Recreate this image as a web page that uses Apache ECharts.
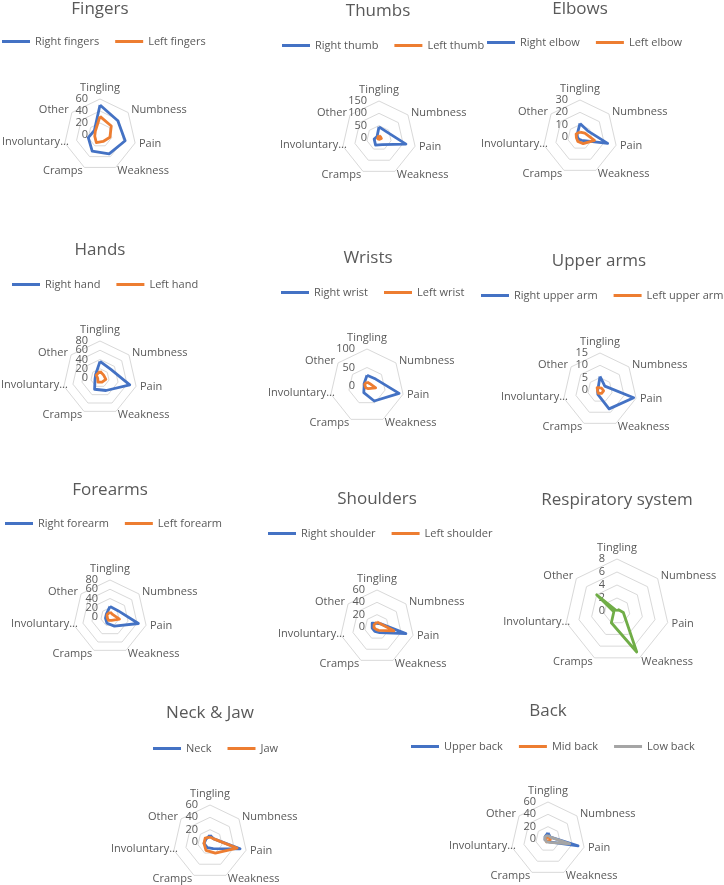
<!DOCTYPE html>
<html>
<head>
<meta charset="utf-8">
<script src="https://cdn.jsdelivr.net/npm/echarts@6/dist/echarts.min.js"></script>
<style>
html,body{margin:0;padding:0;background:#fff;}
#c{width:724px;height:885px;}
</style>
</head>
<body>
<div id="c"></div>
<script>
// Categories (clockwise from top, as in the reference)
const categories = ['Tingling', 'Numbness', 'Pain', 'Weakness', 'Cramps', 'Involuntary...', 'Other'];

// Series values (order follows categories)
const fingersRight = [50, 38, 43, 35, 30, 20, 12];
const fingersLeft  = [31, 24, 17, 12, 14, 9, 10];
const thumbRight   = [45, 40, 112, 30, 32, 20, 10];
const thumbLeft    = [10, 8, 10, 6, 5, 6, 5];
const elbowRight   = [11, 8, 23, 3, 2, 2, 3];
const elbowLeft    = [4, 5, 12, 6, 4, 3, 4];
const handRight    = [36, 30, 66, 30, 27, 11, 12];
const handLeft     = [15, 10, 13, 10, 10, 5, 10];
const wristRight   = [29, 30, 89, 45, 20, 8, 10];
const wristLeft    = [11, 10, 24, 8, 6, 5, 8];
const upperArmRight = [5.5, 2.5, 14, 8.5, 2, 1, 1];
const upperArmLeft  = [1, 1, 1.5, 1.5, 1.5, 1, 1.5];
const forearmRight = [23, 22, 63, 22, 15, 10, 10];
const forearmLeft  = [11, 8, 21, 8, 8, 6, 8];
const shoulderRight = [6, 8, 48, 10, 8, 8, 10];
const shoulderLeft  = [8, 8, 28, 6, 4, 5, 6];
const respiratory  = [0, 0.3, 1, 7, 2, 0.5, 4];
const neck         = [11, 8, 50, 12, 10, 10, 8];
const jaw          = [8, 8, 45, 20, 15, 10, 10];
const upperBack    = [10, 5, 50, 5, 4, 5, 6];
const midBack      = [3, 3, 4, 3, 5, 4, 3];
const lowBack      = [6, 5, 36, 6, 5, 5, 6];

// Axis maxima and tick counts (tick labels: 0..max)
const axisMax   = [60, 150, 30, 80, 100, 15, 80, 60, 8, 60, 60];
const axisSplit = [3, 3, 3, 4, 2, 3, 4, 3, 4, 3, 3];
// Crowded tick labels that ECharts would otherwise drop (drawn by helper axes)
const crowdedTicks = {3: [20, 60], 6: [20, 60]};

const BLUE = '#4472C4', ORANGE = '#ED7D31', GRAY = '#A5A5A5', GREEN = '#70AD47';
const TXT = '#595959';
const FONT = 'Open Sans';

const panels = [
  {title: 'Fingers', tx: 100, ty: 11, lx: 2, ly: 42, cx: 100, cy: 135, r: 36,
   series: [['Right fingers', fingersRight, BLUE], ['Left fingers', fingersLeft, ORANGE]]},
  {title: 'Thumbs', tx: 378, ty: 13, lx: 282, ly: 46, cx: 379, cy: 138, r: 37,
   series: [['Right thumb', thumbRight, BLUE], ['Left thumb', thumbLeft, ORANGE]]},
  {title: 'Elbows', tx: 580, ty: 11, lx: 487, ly: 43, cx: 580, cy: 137, r: 37,
   series: [['Right elbow', elbowRight, BLUE], ['Left elbow', elbowLeft, ORANGE]]},
  {title: 'Hands', tx: 100, ty: 252, lx: 12, ly: 285, cx: 100, cy: 378, r: 37,
   series: [['Right hand', handRight, BLUE], ['Left hand', handLeft, ORANGE]]},
  {title: 'Wrists', tx: 368, ty: 260, lx: 281, ly: 293, cx: 367, cy: 386, r: 37,
   series: [['Right wrist', wristRight, BLUE], ['Left wrist', wristLeft, ORANGE]]},
  {title: 'Upper arms', tx: 599, ty: 263, lx: 481, ly: 296, cx: 600, cy: 390, r: 37,
   series: [['Right upper arm', upperArmRight, BLUE], ['Left upper arm', upperArmLeft, ORANGE]]},
  {title: 'Forearms', tx: 110, ty: 492, lx: 5, ly: 524, cx: 110, cy: 617, r: 37,
   series: [['Right forearm', forearmRight, BLUE], ['Left forearm', forearmLeft, ORANGE]]},
  {title: 'Shoulders', tx: 377, ty: 501, lx: 268, ly: 534, cx: 377, cy: 627, r: 37,
   series: [['Right shoulder', shoulderRight, BLUE], ['Left shoulder', shoulderLeft, ORANGE]]},
  {title: 'Respiratory system', tx: 617, ty: 502, lx: null, ly: null, cx: 617, cy: 611, r: 52,
   series: [['Respiratory system', respiratory, GREEN]]},
  {title: 'Neck & Jaw', tx: 210, ty: 715, lx: 153, ly: 749, cx: 210, cy: 842, r: 37,
   series: [['Neck', neck, BLUE], ['Jaw', jaw, ORANGE]]},
  {title: 'Back', tx: 548, ty: 713, lx: 411, ly: 747, cx: 548, cy: 839, r: 37,
   series: [['Upper back', upperBack, BLUE], ['Mid back', midBack, ORANGE], ['Low back', lowBack, GRAY]]}
];

// ECharts radar runs counter-clockwise; reorder so that categories run clockwise
const order = [0, 6, 5, 4, 3, 2, 1];

const labelStyle = {fontFamily: FONT, fontSize: 11, color: TXT, margin: 12,
                    showMinLabel: true, showMaxLabel: true, hideOverlap: false};

const titles = [], legends = [], radars = [], series = [];
panels.forEach((p, i) => {
  titles.push({
    text: p.title, left: p.tx, top: p.ty - 10, textAlign: 'center', padding: 0,
    textStyle: {fontFamily: FONT, fontSize: 17, fontWeight: 'normal', color: TXT}
  });
  if (p.lx !== null) {
    legends.push({
      data: p.series.map(s => s[0]), left: p.lx, top: p.ly - 6, padding: 0,
      orient: 'horizontal', icon: 'rect', itemWidth: 28, itemHeight: 3, itemGap: 16,
      textStyle: {fontFamily: FONT, fontSize: 11, color: TXT}, selectedMode: false
    });
  }
  const radarIndex = radars.length;
  radars.push({
    center: [p.cx, p.cy], radius: p.r, startAngle: 90, shape: 'polygon',
    splitNumber: axisSplit[i],
    indicator: order.map(k => {
      const ind = {name: categories[k], min: 0, max: axisMax[i]};
      if (k === 0) ind.axisLabel = {show: true};
      if (k === 5) ind.nameGap = -4;
      return ind;
    }),
    axisName: {fontFamily: FONT, fontSize: 11, color: TXT},
    nameGap: 4,
    axisLine: {show: false},
    axisTick: {show: false},
    axisLabel: Object.assign({show: false}, labelStyle),
    splitLine: {lineStyle: {color: '#d9d9d9', width: 1}},
    splitArea: {show: false}
  });
  // helper axes (same centre, same scale) that carry the crowded tick labels
  (crowdedTicks[i] || []).forEach(t => {
    radars.push({
      center: [p.cx, p.cy], radius: p.r * t / axisMax[i], startAngle: 90, shape: 'polygon',
      splitNumber: 1,
      indicator: order.map(k => {
        const ind = {name: '', min: 0, max: t};
        if (k === 0) ind.axisLabel = {show: true};
        return ind;
      }),
      axisName: {show: false},
      axisLine: {show: false},
      axisTick: {show: false},
      axisLabel: Object.assign({show: false, formatter: v => (v === t ? String(t) : '')}, labelStyle),
      splitLine: {show: false},
      splitArea: {show: false}
    });
  });
  p.series.forEach(s => {
    series.push({
      type: 'radar', radarIndex: radarIndex, name: s[0], symbol: 'none', silent: true,
      lineStyle: {color: s[2], width: 2.8},
      itemStyle: {color: s[2]},
      data: [{name: s[0], value: order.map(k => s[1][k])}]
    });
  });
});

const chart = echarts.init(document.getElementById('c'));
chart.setOption({
  animation: false,
  backgroundColor: '#fff',
  title: titles,
  legend: legends,
  radar: radars,
  series: series
});
</script>
</body>
</html>
